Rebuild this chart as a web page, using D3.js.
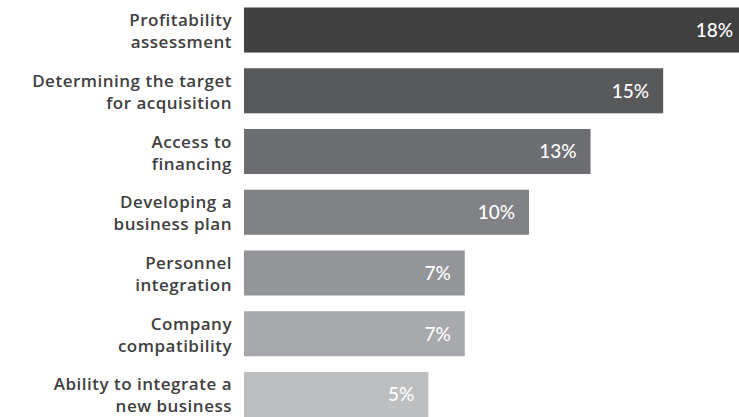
<!DOCTYPE html>
<html>
<head>
<meta charset="utf-8">
<script src="https://cdn.jsdelivr.net/npm/d3@7"></script>
<style>
  html, body { margin: 0; padding: 0; background: #fff; }
  #chart { width: 739px; height: 417px; overflow: hidden; }
</style>
</head>
<body>
<div id="chart"></div>
<script>
// category labels, already split into the two printed lines
const categories = [
  ["Profitability", "assessment"],
  ["Determining the target", "for acquisition"],
  ["Access to", "financing"],
  ["Developing a", "business plan"],
  ["Personnel", "integration"],
  ["Company", "compatibility"],
  ["Ability to integrate a", "new business"]
];

// printed percentages
const shares = ["18%", "15%", "13%", "10%", "7%", "7%", "5%"];

const barValues = [18, 15, 12.4, 10.2, 7.9, 7.9, 6.6];

const barColors = ["#404041", "#58595b", "#6d6e71", "#808285", "#939598", "#a7a9ac", "#bcbec0"];

const W = 739, H = 417;
const barLeft = 244;

const svg = d3.select("#chart")
  .append("svg")
  .attr("width", W)
  .attr("height", H);

const x = d3.scaleLinear()
  .domain([0, 18])
  .range([barLeft, barLeft + 503]);

const y = d3.scaleBand()
  .domain(d3.range(categories.length))
  .range([7.5, 417])
  .paddingInner(0.258);

// ── Bars ───────────────────────────────────────────────
svg.selectAll(".bar")
  .data(barValues)
  .enter().append("rect")
  .attr("class", "bar")
  .attr("x", x(0))
  .attr("y", (d, i) => y(i))
  .attr("width", d => x(d) - x(0))
  .attr("height", y.bandwidth())
  .attr("fill", (d, i) => barColors[i]);

// ── Value labels (inside bar end) ──────────────────────
svg.selectAll(".val")
  .data(barValues)
  .enter().append("text")
  .attr("class", "val")
  .attr("x", d => x(d) - 14)
  .attr("y", (d, i) => y(i) + y.bandwidth() / 2)
  .attr("dy", "0.36em")
  .attr("text-anchor", "end")
  .style("font-family", "Lato, sans-serif")
  .style("font-size", "19px")
  .style("font-weight", "500")
  .style("fill", "#fff")
  .text((d, i) => shares[i]);

// ── Category labels (two lines, right aligned) ─────────
const lab = svg.selectAll(".cat")
  .data(categories)
  .enter().append("text")
  .attr("class", "cat")
  .attr("text-anchor", "end")
  .style("font-family", "'Open Sans', sans-serif")
  .style("font-size", "17px")
  .style("font-weight", "600")
  .style("letter-spacing", "0.5px")
  .style("fill", "#404041");

lab.each(function (lines, i) {
  const cy = y(i) + y.bandwidth() / 2;
  d3.select(this).selectAll("tspan")
    .data(lines)
    .enter().append("tspan")
    .attr("x", 232)
    .attr("y", (d, j) => cy - 4 + j * 22)
    .text(d => d);
});
</script>
</body>
</html>
